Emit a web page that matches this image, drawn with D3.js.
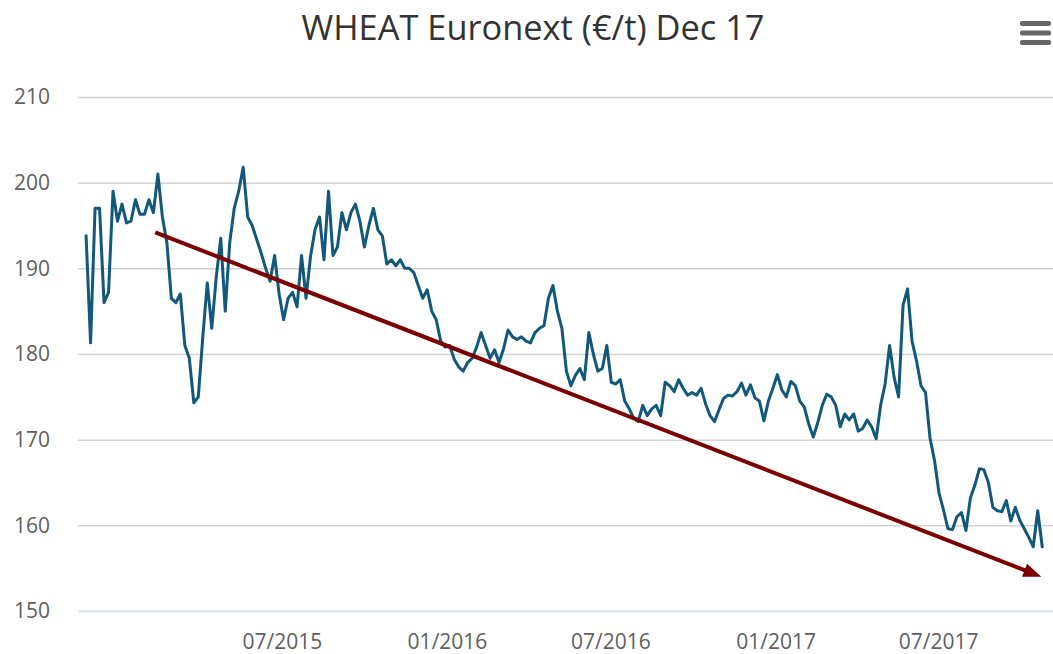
<!DOCTYPE html>
<html>
<head>
<meta charset="utf-8">
<script src="https://cdn.jsdelivr.net/npm/d3@7"></script>
<style>
	body { margin: 0; background: #fff; }
	#graphic { width: 1053px; height: 654px; }
	.axis text { font-family: "Open Sans", sans-serif; font-size: 21px; fill: #606060; }
	.grid line { stroke: #d4d4d4; stroke-width: 1.5; }
	.grid .domain { display: none; }
</style>
</head>
<body>
<div id="graphic"></div>
<script>
// Chart data
const chartTitle = 'WHEAT Euronext (€/t) Dec 17';
const firstDate = '2014-11-25';
const stepDays = 5; // one sample every 5 calendar days
const wheatPrices = [
	193.8, 181.3, 197, 197, 186, 187.2, 199, 195.5, 197.5, 195.3,
	195.5, 198, 196.3, 196.3, 198, 196.5, 201, 196, 193, 186.5,
	186, 187, 181, 179.5, 174.3, 175, 182, 188.3, 183, 189,
	193.5, 185, 193, 197, 199, 201.8, 196, 195, 193.4, 191.8,
	190, 188.5, 191.5, 187, 184, 186.5, 187.2, 185.5, 191.5, 186.5,
	191.4, 194.5, 196, 191, 199, 191.5, 192.5, 196.5, 194.5, 196.5,
	197.5, 195.5, 192.5, 195, 197, 194.5, 193.8, 190.5, 191, 190.3,
	191, 190, 190, 189.5, 188, 186.5, 187.5, 185, 184, 181.5,
	180.8, 181, 179.4, 178.5, 178, 179, 179.5, 180.8, 182.5, 181,
	179.5, 180.5, 179, 180.6, 182.8, 182, 181.7, 182, 181.5, 181.3,
	182.5, 183, 183.3, 186.5, 188, 185, 183, 178, 176.3, 177.5,
	178.3, 177, 182.5, 180, 178, 178.3, 181, 176.7, 176.5, 177,
	174.5, 173.6, 172.5, 172.1, 174, 172.8, 173.6, 174, 172.8, 176.7,
	176.3, 175.6, 177, 176, 175.2, 175.5, 175.2, 176, 174.2, 172.8,
	172.1, 173.5, 174.8, 175.2, 175.1, 175.6, 176.6, 175.2, 176.4, 174.9,
	174.5, 172.2, 174.5, 176, 177.6, 175.8, 175, 176.8, 176.3, 174.5,
	173.8, 171.8, 170.3, 172, 174, 175.3, 175, 174, 171.5, 173,
	172.3, 173, 171, 171.3, 172.3, 171.5, 170.1, 174, 176.5, 181,
	177.3, 175, 185.7, 187.6, 181.5, 179.2, 176.3, 175.5, 170.2, 167.6,
	163.8, 161.8, 159.6, 159.5, 161, 161.5, 159.4, 163.2, 164.7, 166.6,
	166.5, 165, 162.1, 161.7, 161.6, 162.9, 160.5, 162.1, 160.6, 159.6,
	158.6, 157.5, 161.7, 157.5
];

// Hand-drawn trend arrow (start and end in data terms)
const trendDates = ['2015-02-10', '2017-10-24'];
const trendValues = [194.2, 154];

// Axis set-up
const xDomain = ['2014-11-16', '2017-11-06'];
const xTickDates = ['2015-07-01', '2016-01-01', '2016-07-01', '2017-01-01', '2017-07-01'];
const yTicks = [150, 160, 170, 180, 190, 200, 210];
const yDomain = [150, 210];

const parseDate = d3.timeParse('%Y-%m-%d');

function drawGraphic() {

	const margin = { top: 97, right: 0, bottom: 43, left: 78 };
	const width = 1053 - margin.left - margin.right;
	const height = 654 - margin.top - margin.bottom;

	const graphicData = wheatPrices.map((v, i) => ({
		date: d3.timeDay.offset(parseDate(firstDate), i * stepDays),
		value: v
	}));

	const x = d3.scaleTime()
		.domain(xDomain.map(parseDate))
		.range([0, width]);

	const y = d3.scaleLinear()
		.domain(yDomain)
		.range([height, 0]);

	const root = d3.select('#graphic')
		.append('svg')
		.attr('width', 1053)
		.attr('height', 654);

	// title
	root.append('text')
		.attr('x', 533)
		.attr('y', 40)
		.attr('text-anchor', 'middle')
		.attr('textLength', 463)
		.attr('lengthAdjust', 'spacingAndGlyphs')
		.style('font-family', '"Open Sans", sans-serif')
		.style('font-size', '35px')
		.style('fill', '#333333')
		.text(chartTitle);

	// hamburger menu icon
	const menu = root.append('g').attr('transform', 'translate(1020,21)');
	[0, 9.5, 19].forEach((dy) => {
		menu.append('rect')
			.attr('y', dy)
			.attr('width', 31)
			.attr('height', 5)
			.attr('rx', 2)
			.attr('fill', '#666666');
	});

	const svg = root.append('g')
		.attr('transform', `translate(${margin.left},${margin.top})`);

	// grid lines + y labels
	svg.append('g')
		.attr('class', 'grid axis')
		.call(
			d3.axisLeft(y)
				.tickValues(yTicks)
				.tickSize(-width)
				.tickPadding(28)
				.tickFormat(d3.format('d'))
		)
		.selectAll('.tick line')
		.filter((d) => d === 150)
		.remove();

	// x axis
	const xAxis = svg.append('g')
		.attr('class', 'x axis')
		.attr('transform', `translate(0,${height})`)
		.call(
			d3.axisBottom(x)
				.tickValues(xTickDates.map(parseDate))
				.tickSize(0)
				.tickSizeOuter(0)
				.tickPadding(23)
				.tickFormat(d3.timeFormat('%m/%Y'))
		);
	xAxis.select('.domain')
		.attr('stroke', '#ccd6eb')
		.attr('stroke-width', 1.5);

	// price line
	const line = d3.line()
		.x((d) => x(d.date))
		.y((d) => y(d.value));

	svg.append('path')
		.datum(graphicData)
		.attr('fill', 'none')
		.attr('stroke', '#11587b')
		.attr('stroke-width', 3)
		.style('stroke-linejoin', 'round')
		.style('stroke-linecap', 'round')
		.attr('d', line);

	// trend arrow
	const p0 = [x(parseDate(trendDates[0])), y(trendValues[0])];
	const p1 = [x(parseDate(trendDates[1])), y(trendValues[1])];
	const len = Math.hypot(p1[0] - p0[0], p1[1] - p0[1]);
	const ux = (p1[0] - p0[0]) / len, uy = (p1[1] - p0[1]) / len;
	const headLen = 18, headHalf = 7;
	const base = [p1[0] - ux * headLen, p1[1] - uy * headLen];

	svg.append('line')
		.attr('x1', p0[0])
		.attr('y1', p0[1])
		.attr('x2', base[0] + ux * 2)
		.attr('y2', base[1] + uy * 2)
		.attr('stroke', '#7b0000')
		.attr('stroke-width', 4);

	svg.append('path')
		.attr('d', `M${p1[0]},${p1[1]}L${base[0] - uy * headHalf},${base[1] + ux * headHalf}L${base[0] + uy * headHalf},${base[1] - ux * headHalf}Z`)
		.attr('fill', '#7b0000');
}

drawGraphic();
</script>
</body>
</html>
